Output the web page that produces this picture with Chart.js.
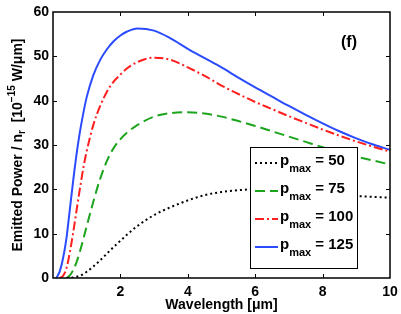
<!DOCTYPE html>
<html>
<head>
<meta charset="utf-8">
<script src="https://cdn.jsdelivr.net/npm/chart.js@4.4.1/dist/chart.umd.min.js"></script>
<style>
  html, body { margin: 0; padding: 0; background: #fff; }
  canvas { display: block; }
</style>
</head>
<body>
<canvas id="myChart" width="401" height="314"></canvas>
<script>
// wavelength grid [um] and emitted power [1e-15 W/um]
const wavelength = [0.1, 0.2, 0.3, 0.4, 0.5, 0.6, 0.7, 0.8, 0.9, 1.0, 1.2, 1.4, 1.6, 1.8, 2.0, 2.2,
  2.5, 3.0, 3.5, 4.0, 4.5, 5.0, 5.5, 6.0, 6.5, 7.0, 7.5, 8.0, 8.5, 9.0, 9.5, 10];
const power50 = [null, null, null, 0, 0.05, 0.1, 0.3, 0.5, 0.9, 1.4, 2.6, 4.0, 5.5, 7.0, 8.4, 9.8,
  11.7, 14.2, 16.0, 17.5, 18.7, 19.4, 19.8, 20.0, 19.9, 19.7, 19.4, 19.1, 18.8, 18.5, 18.3, 18.1];
const power75 = [null, null, null, 0, 0.6, 1.8, 3.6, 6.0, 8.8, 11.7, 17.3, 22.4, 26.4, 29.3, 31.3, 32.8,
  34.5, 36.4, 37.2, 37.4, 37.1, 36.4, 35.4, 34.3, 33.1, 31.9, 30.7, 29.5, 28.4, 27.4, 26.5, 25.6];
const power100 = [null, 0, 0.5, 2.2, 5.8, 10.3, 15.3, 20.2, 24.8, 28.6, 34.6, 38.8, 42.0, 44.3, 45.9, 47.3,
  48.7, 49.7, 49.2, 47.5, 45.6, 43.4, 41.5, 39.7, 38.1, 36.5, 35.0, 33.5, 32.1, 30.8, 29.6, 28.5];
const power125 = [0, 1.5, 4.5, 9, 15.5, 22, 28, 33, 37.2, 40.8, 45.8, 49.2, 51.6, 53.4, 54.7, 55.6,
  56.3, 55.8, 54.0, 51.7, 49.6, 47.5, 45.2, 43.0, 40.9, 38.8, 36.8, 34.9, 33.1, 31.5, 30.1, 28.9];
const pmaxValues = [50, 75, 100, 125];

const FONT = '"Liberation Sans", Arial, Helvetica, sans-serif';
const colors = ['#000000', '#1ca41c', '#ff1f1f', '#2b4bff'];
const dashes = [[2, 3], [10, 5], [9, 3, 2, 3], []];
const seriesList = [power50, power75, power100, power125];

const datasets = seriesList.map((vals, i) => ({
  label: 'p_max = ' + pmaxValues[i],
  data: wavelength.map((w, k) => ({ x: w, y: vals[k] })),
  borderColor: colors[i],
  borderDash: dashes[i],
  borderWidth: 2,
  pointRadius: 0,
  fill: false,
  spanGaps: false,
  cubicInterpolationMode: 'monotone'
}));

const decorations = {
  id: 'decorations',
  afterDatasetsDraw(chart) {
    const { ctx, chartArea: a, scales: { x, y } } = chart;
    ctx.save();
    // ticks pointing inwards on all four sides
    ctx.strokeStyle = '#000';
    ctx.lineWidth = 1;
    ctx.setLineDash([]);
    ctx.beginPath();
    x.ticks.forEach(t => {
      if (t.value <= x.min || t.value >= x.max) return;
      const px = Math.round(x.getPixelForValue(t.value)) + 0.5;
      ctx.moveTo(px, a.bottom); ctx.lineTo(px, a.bottom - 4);
      ctx.moveTo(px, a.top); ctx.lineTo(px, a.top + 4);
    });
    y.ticks.forEach(t => {
      if (t.value <= y.min || t.value >= y.max) return;
      const py = Math.round(y.getPixelForValue(t.value)) + 0.5;
      ctx.moveTo(a.left, py); ctx.lineTo(a.left + 4, py);
      ctx.moveTo(a.right, py); ctx.lineTo(a.right - 4, py);
    });
    ctx.stroke();
    ctx.lineWidth = 1.5;
    ctx.strokeRect(a.left, a.top, a.right - a.left, a.bottom - a.top);

    // panel tag
    ctx.fillStyle = '#000';
    ctx.font = 'bold 16px ' + FONT;
    ctx.textAlign = 'center';
    ctx.textBaseline = 'middle';
    ctx.fillText('(f)', 349, 43);

    // legend
    const lx = 250.5, ly = 147.5, lw = 107, lh = 121;
    ctx.fillStyle = '#fff';
    ctx.fillRect(lx, ly, lw, lh);
    ctx.lineWidth = 1;
    ctx.strokeStyle = '#000';
    ctx.strokeRect(lx, ly, lw, lh);
    const rowY = [163, 191, 219, 247];
    chart.data.datasets.forEach((ds, i) => {
      const yy = rowY[i];
      ctx.strokeStyle = ds.borderColor;
      ctx.lineWidth = 2;
      ctx.setLineDash(ds.borderDash);
      ctx.beginPath();
      ctx.moveTo(255, yy); ctx.lineTo(278, yy);
      ctx.stroke();
      ctx.setLineDash([]);
      ctx.fillStyle = '#000';
      ctx.textAlign = 'left';
      ctx.textBaseline = 'alphabetic';
      ctx.font = 'bold 15px ' + FONT;
      ctx.fillText('p', 280, yy + 2);
      let cx = 280 + ctx.measureText('p').width;
      ctx.font = 'bold 11px ' + FONT;
      ctx.fillText('max', cx, yy + 9);
      cx += ctx.measureText('max').width;
      ctx.font = 'bold 15px ' + FONT;
      ctx.fillText(' = ' + pmaxValues[i], cx, yy + 2);
    });

    // x title
    ctx.font = 'bold 14px ' + FONT;
    ctx.textAlign = 'center';
    ctx.textBaseline = 'middle';
    ctx.fillText('Wavelength [\u03bcm]', (a.left + a.right) / 2, 305);

    // y title with sub/superscripts
    const parts = [
      { t: 'Emitted Power / n', s: 14, dy: 0 },
      { t: 'r', s: 10, dy: 4 },
      { t: '  [10', s: 14, dy: 0 },
      { t: '\u221215', s: 10, dy: -6 },
      { t: ' W/\u03bcm]', s: 14, dy: 0 }
    ];
    let total = 0;
    parts.forEach(p => { ctx.font = 'bold ' + p.s + 'px ' + FONT; p.w = ctx.measureText(p.t).width; total += p.w; });
    ctx.translate(18, (a.top + a.bottom) / 2);
    ctx.rotate(-Math.PI / 2);
    ctx.textAlign = 'left';
    ctx.textBaseline = 'middle';
    let px = -total / 2;
    parts.forEach(p => {
      ctx.font = 'bold ' + p.s + 'px ' + FONT;
      ctx.fillText(p.t, px, p.dy);
      px += p.w;
    });
    ctx.restore();
  }
};

new Chart(document.getElementById('myChart'), {
  type: 'line',
  data: { datasets },
  options: {
    responsive: false,
    animation: false,
    devicePixelRatio: 1,
    layout: { padding: { top: 12, right: 11, left: 0, bottom: 0 } },
    plugins: { legend: { display: false }, tooltip: { enabled: false } },
    scales: {
      x: {
        type: 'linear', min: 0, max: 10,
        grid: { display: false, drawTicks: false },
        border: { display: false },
        ticks: {
          stepSize: 2, padding: 6, maxRotation: 0, color: '#000',
          font: { family: FONT, size: 14, weight: 'bold' },
          callback: v => (v === 0 ? '' : v)
        },
        afterFit: s => { s.height = 36; s.paddingLeft = 0; s.paddingRight = 0; }
      },
      y: {
        min: 0, max: 60,
        grid: { display: false, drawTicks: false },
        border: { display: false },
        ticks: {
          stepSize: 10, padding: 4, color: '#000',
          font: { family: FONT, size: 14, weight: 'bold' }
        },
        afterFit: s => { s.width = 53; s.paddingTop = 0; s.paddingBottom = 0; }
      }
    }
  },
  plugins: [decorations]
});
</script>
</body>
</html>
